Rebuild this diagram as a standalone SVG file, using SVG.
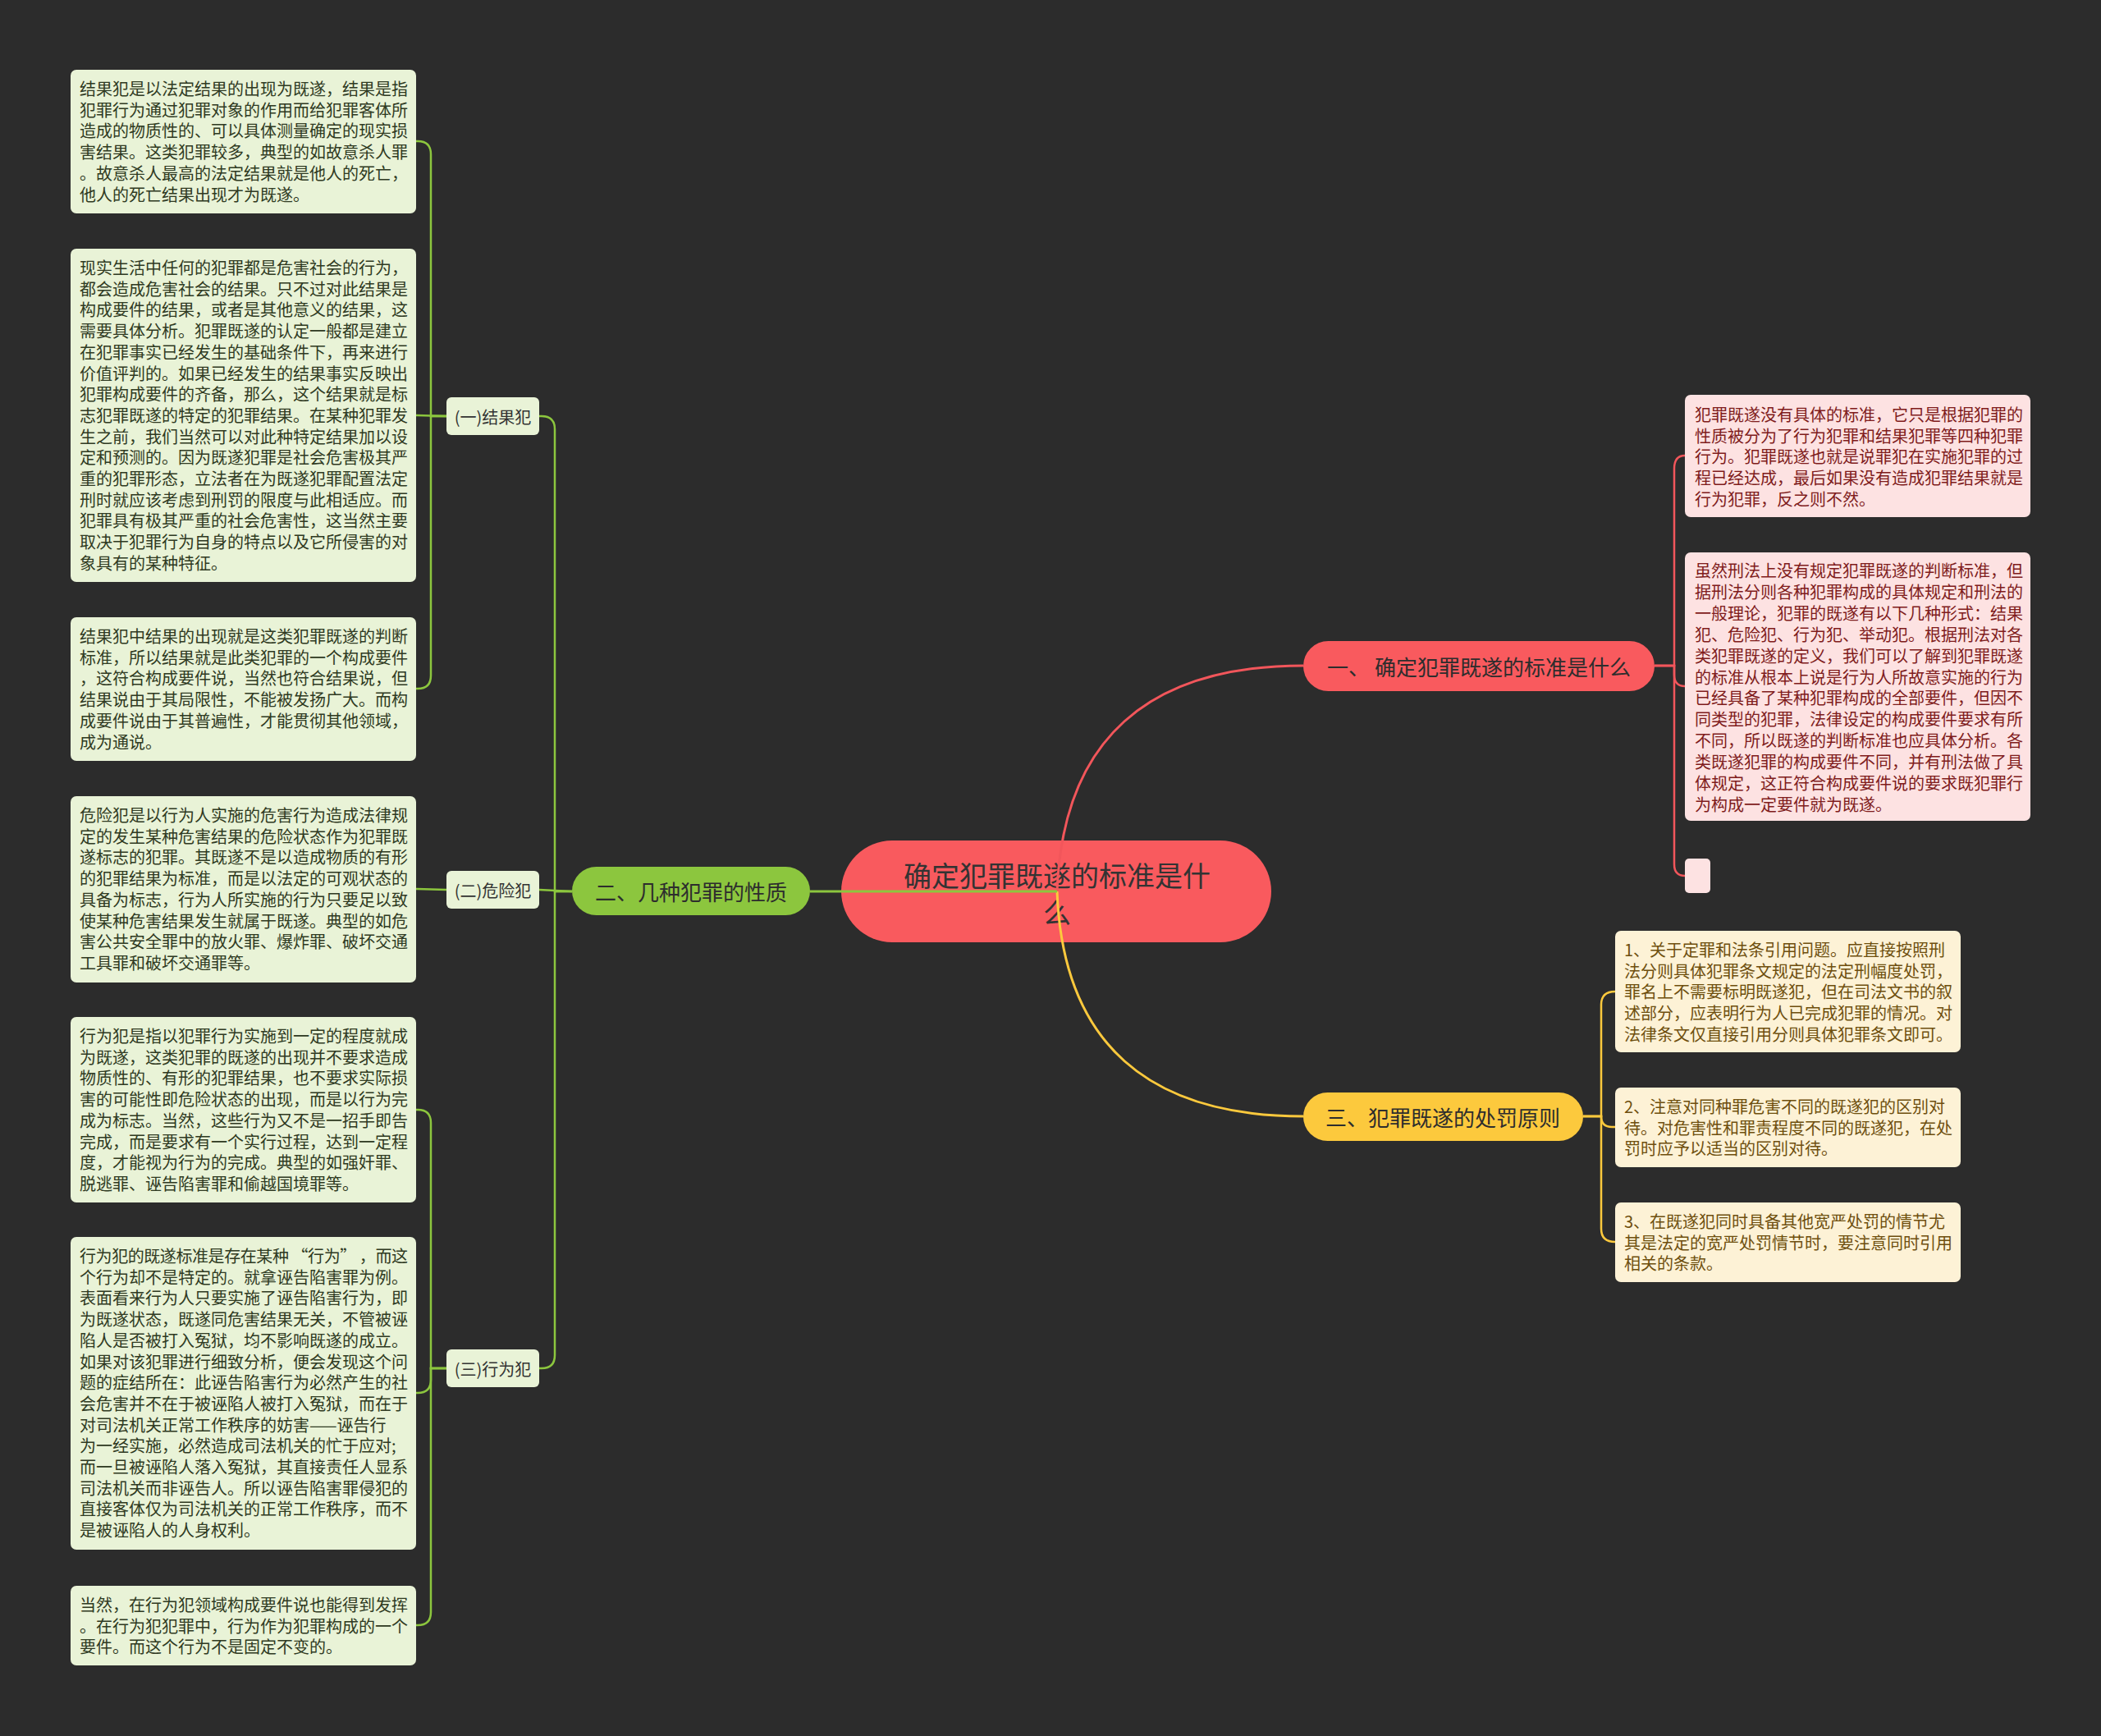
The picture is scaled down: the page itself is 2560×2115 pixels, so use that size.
<svg xmlns="http://www.w3.org/2000/svg" width="2560" height="2115" viewBox="0 0 2560 2115">
<style>
text{font-family:"Noto Sans CJK SC","Noto Sans",sans-serif;}
.bg{fill:#2c2c2c}
.gbox{fill:#e9f3d7}
.pbox{fill:#fde2e2}
.ybox{fill:#fdf2d6}
.gt{font-size:20px;fill:#2f3a22}
.pt{font-size:20px;fill:#7f1c1c}
.yt{font-size:20px;fill:#6e4f0e}
.bt{font-size:26px;fill:#2d2d2d;text-anchor:middle;dominant-baseline:central}
.st{font-size:20px;fill:#333;text-anchor:middle;dominant-baseline:central}
.ct{font-size:34px;fill:#333;text-anchor:middle;dominant-baseline:central}
.lr{fill:none;stroke:#f2565b;stroke-width:3}
.lg{fill:none;stroke:#8cc63e;stroke-width:3}
.ly{fill:none;stroke:#fcc93d;stroke-width:3}
.br{stroke-width:2.5}
</style>
<rect class="bg" x="0" y="0" width="2560" height="2115"/>

<g id="center">
<rect x="1025" y="1024" width="524" height="124" rx="62" fill="#f95a5e"/>
<text class="ct" x="1288" y="1065">确定犯罪既遂的标准是什</text>
<text class="ct" x="1288" y="1110">么</text>
</g>

<g id="branch1">
<rect x="1588" y="781" width="428" height="61" rx="30.5" fill="#f95a5e"/>
<text class="bt" x="1802" y="811.5">一、 确定犯罪既遂的标准是什么</text>
</g>
<g id="branch2">
<rect x="697" y="1056" width="290" height="59" rx="29.5" fill="#8cc63e"/>
<text class="bt" x="842" y="1085.5">二、几种犯罪的性质</text>
</g>
<g id="branch3">
<rect x="1588" y="1331" width="341" height="59" rx="29.5" fill="#fcc93d"/>
<text class="bt" x="1758" y="1360.5">三、犯罪既遂的处罚原则</text>
</g>

<g id="sub1">
<rect class="gbox" x="544" y="484" width="113" height="46" rx="6"/>
<text class="st" x="600.5" y="507">(一)结果犯</text>
</g>
<g id="sub2">
<rect class="gbox" x="544" y="1061" width="113" height="46" rx="6"/>
<text class="st" x="600.5" y="1084">(二)危险犯</text>
</g>
<g id="sub3">
<rect class="gbox" x="544" y="1644" width="113" height="46" rx="6"/>
<text class="st" x="600.5" y="1667">(三)行为犯</text>
</g>

<g id="g1">
<rect class="gbox" x="86" y="85" width="421" height="175" rx="7"/>
<text class="gt" y="116"><tspan x="97">结果犯是以法定结果的出现为既遂，结果是指</tspan><tspan x="97" dy="25.7">犯罪行为通过犯罪对象的作用而给犯罪客体所</tspan><tspan x="97" dy="25.7">造成的物质性的、可以具体测量确定的现实损</tspan><tspan x="97" dy="25.7">害结果。这类犯罪较多，典型的如故意杀人罪</tspan><tspan x="97" dy="25.7">。故意杀人最高的法定结果就是他人的死亡，</tspan><tspan x="97" dy="25.7">他人的死亡结果出现才为既遂。</tspan></text>
</g>
<g id="g2">
<rect class="gbox" x="86" y="303" width="421" height="406" rx="7"/>
<text class="gt" y="334"><tspan x="97">现实生活中任何的犯罪都是危害社会的行为，</tspan><tspan x="97" dy="25.7">都会造成危害社会的结果。只不过对此结果是</tspan><tspan x="97" dy="25.7">构成要件的结果，或者是其他意义的结果，这</tspan><tspan x="97" dy="25.7">需要具体分析。犯罪既遂的认定一般都是建立</tspan><tspan x="97" dy="25.7">在犯罪事实已经发生的基础条件下，再来进行</tspan><tspan x="97" dy="25.7">价值评判的。如果已经发生的结果事实反映出</tspan><tspan x="97" dy="25.7">犯罪构成要件的齐备，那么，这个结果就是标</tspan><tspan x="97" dy="25.7">志犯罪既遂的特定的犯罪结果。在某种犯罪发</tspan><tspan x="97" dy="25.7">生之前，我们当然可以对此种特定结果加以设</tspan><tspan x="97" dy="25.7">定和预测的。因为既遂犯罪是社会危害极其严</tspan><tspan x="97" dy="25.7">重的犯罪形态，立法者在为既遂犯罪配置法定</tspan><tspan x="97" dy="25.7">刑时就应该考虑到刑罚的限度与此相适应。而</tspan><tspan x="97" dy="25.7">犯罪具有极其严重的社会危害性，这当然主要</tspan><tspan x="97" dy="25.7">取决于犯罪行为自身的特点以及它所侵害的对</tspan><tspan x="97" dy="25.7">象具有的某种特征。</tspan></text>
</g>
<g id="g3">
<rect class="gbox" x="86" y="752" width="421" height="175" rx="7"/>
<text class="gt" y="783"><tspan x="97">结果犯中结果的出现就是这类犯罪既遂的判断</tspan><tspan x="97" dy="25.7">标准，所以结果就是此类犯罪的一个构成要件</tspan><tspan x="97" dy="25.7">，这符合构成要件说，当然也符合结果说，但</tspan><tspan x="97" dy="25.7">结果说由于其局限性，不能被发扬广大。而构</tspan><tspan x="97" dy="25.7">成要件说由于其普遍性，才能贯彻其他领域，</tspan><tspan x="97" dy="25.7">成为通说。</tspan></text>
</g>
<g id="g4">
<rect class="gbox" x="86" y="970" width="421" height="227" rx="7"/>
<text class="gt" y="1001"><tspan x="97">危险犯是以行为人实施的危害行为造成法律规</tspan><tspan x="97" dy="25.7">定的发生某种危害结果的危险状态作为犯罪既</tspan><tspan x="97" dy="25.7">遂标志的犯罪。其既遂不是以造成物质的有形</tspan><tspan x="97" dy="25.7">的犯罪结果为标准，而是以法定的可观状态的</tspan><tspan x="97" dy="25.7">具备为标志，行为人所实施的行为只要足以致</tspan><tspan x="97" dy="25.7">使某种危害结果发生就属于既遂。典型的如危</tspan><tspan x="97" dy="25.7">害公共安全罪中的放火罪、爆炸罪、破坏交通</tspan><tspan x="97" dy="25.7">工具罪和破坏交通罪等。</tspan></text>
</g>
<g id="g5">
<rect class="gbox" x="86" y="1239" width="421" height="226" rx="7"/>
<text class="gt" y="1270"><tspan x="97">行为犯是指以犯罪行为实施到一定的程度就成</tspan><tspan x="97" dy="25.7">为既遂，这类犯罪的既遂的出现并不要求造成</tspan><tspan x="97" dy="25.7">物质性的、有形的犯罪结果，也不要求实际损</tspan><tspan x="97" dy="25.7">害的可能性即危险状态的出现，而是以行为完</tspan><tspan x="97" dy="25.7">成为标志。当然，这些行为又不是一招手即告</tspan><tspan x="97" dy="25.7">完成，而是要求有一个实行过程，达到一定程</tspan><tspan x="97" dy="25.7">度，才能视为行为的完成。典型的如强奸罪、</tspan><tspan x="97" dy="25.7">脱逃罪、诬告陷害罪和偷越国境罪等。</tspan></text>
</g>
<g id="g6">
<rect class="gbox" x="86" y="1507" width="421" height="381" rx="7"/>
<text class="gt" y="1538"><tspan x="97" textLength="400" lengthAdjust="spacing">行为犯的既遂标准是存在某种 “行为” ，而这</tspan><tspan x="97" dy="25.7">个行为却不是特定的。就拿诬告陷害罪为例。</tspan><tspan x="97" dy="25.7">表面看来行为人只要实施了诬告陷害行为，即</tspan><tspan x="97" dy="25.7">为既遂状态，既遂同危害结果无关，不管被诬</tspan><tspan x="97" dy="25.7">陷人是否被打入冤狱，均不影响既遂的成立。</tspan><tspan x="97" dy="25.7">如果对该犯罪进行细致分析，便会发现这个问</tspan><tspan x="97" dy="25.7">题的症结所在：此诬告陷害行为必然产生的社</tspan><tspan x="97" dy="25.7">会危害并不在于被诬陷人被打入冤狱，而在于</tspan><tspan x="97" dy="25.7">对司法机关正常工作秩序的妨害——诬告行</tspan><tspan x="97" dy="25.7">为一经实施，必然造成司法机关的忙于应对;</tspan><tspan x="97" dy="25.7">而一旦被诬陷人落入冤狱，其直接责任人显系</tspan><tspan x="97" dy="25.7">司法机关而非诬告人。所以诬告陷害罪侵犯的</tspan><tspan x="97" dy="25.7">直接客体仅为司法机关的正常工作秩序，而不</tspan><tspan x="97" dy="25.7">是被诬陷人的人身权利。</tspan></text>
</g>
<g id="g7">
<rect class="gbox" x="86" y="1932" width="421" height="97" rx="7"/>
<text class="gt" y="1963"><tspan x="97">当然，在行为犯领域构成要件说也能得到发挥</tspan><tspan x="97" dy="25.7">。在行为犯犯罪中，行为作为犯罪构成的一个</tspan><tspan x="97" dy="25.7">要件。而这个行为不是固定不变的。</tspan></text>
</g>

<g id="p1">
<rect class="pbox" x="2053" y="481" width="421" height="149" rx="7"/>
<text class="pt" y="513"><tspan x="2065">犯罪既遂没有具体的标准，它只是根据犯罪的</tspan><tspan x="2065" dy="25.7">性质被分为了行为犯罪和结果犯罪等四种犯罪</tspan><tspan x="2065" dy="25.7">行为。犯罪既遂也就是说罪犯在实施犯罪的过</tspan><tspan x="2065" dy="25.7">程已经达成，最后如果没有造成犯罪结果就是</tspan><tspan x="2065" dy="25.7">行为犯罪，反之则不然。</tspan></text>
</g>
<g id="p2">
<rect class="pbox" x="2053" y="673" width="421" height="327" rx="7"/>
<text class="pt" y="703"><tspan x="2065">虽然刑法上没有规定犯罪既遂的判断标准，但</tspan><tspan x="2065" dy="25.9">据刑法分则各种犯罪构成的具体规定和刑法的</tspan><tspan x="2065" dy="25.9">一般理论，犯罪的既遂有以下几种形式：结果</tspan><tspan x="2065" dy="25.9">犯、危险犯、行为犯、举动犯。根据刑法对各</tspan><tspan x="2065" dy="25.9">类犯罪既遂的定义，我们可以了解到犯罪既遂</tspan><tspan x="2065" dy="25.9">的标准从根本上说是行为人所故意实施的行为</tspan><tspan x="2065" dy="25.9">已经具备了某种犯罪构成的全部要件，但因不</tspan><tspan x="2065" dy="25.9">同类型的犯罪，法律设定的构成要件要求有所</tspan><tspan x="2065" dy="25.9">不同，所以既遂的判断标准也应具体分析。各</tspan><tspan x="2065" dy="25.9">类既遂犯罪的构成要件不同，并有刑法做了具</tspan><tspan x="2065" dy="25.9">体规定，这正符合构成要件说的要求既犯罪行</tspan><tspan x="2065" dy="25.9">为构成一定要件就为既遂。</tspan></text>
</g>
<g id="p3">
<rect class="pbox" x="2053" y="1046" width="31" height="42" rx="5"/>
</g>

<g id="y1">
<rect class="ybox" x="1968" y="1134" width="421" height="148" rx="7"/>
<text class="yt" y="1165"><tspan x="1979">1、关于定罪和法条引用问题。应直接按照刑</tspan><tspan x="1979" dy="25.7">法分则具体犯罪条文规定的法定刑幅度处罚，</tspan><tspan x="1979" dy="25.7">罪名上不需要标明既遂犯，但在司法文书的叙</tspan><tspan x="1979" dy="25.7">述部分，应表明行为人已完成犯罪的情况。对</tspan><tspan x="1979" dy="25.7">法律条文仅直接引用分则具体犯罪条文即可。</tspan></text>
</g>
<g id="y2">
<rect class="ybox" x="1968" y="1325" width="421" height="97" rx="7"/>
<text class="yt" y="1356"><tspan x="1979">2、注意对同种罪危害不同的既遂犯的区别对</tspan><tspan x="1979" dy="25.7">待。对危害性和罪责程度不同的既遂犯，在处</tspan><tspan x="1979" dy="25.7">罚时应予以适当的区别对待。</tspan></text>
</g>
<g id="y3">
<rect class="ybox" x="1968" y="1465" width="421" height="97" rx="7"/>
<text class="yt" y="1496"><tspan x="1979">3、在既遂犯同时具备其他宽严处罚的情节尤</tspan><tspan x="1979" dy="25.7">其是法定的宽严处罚情节时，要注意同时引用</tspan><tspan x="1979" dy="25.7">相关的条款。</tspan></text>
</g>

<g id="connectors">
<path class="lr" d="M1288 1086 C1295 900 1400 811 1588 811"/>
<path class="ly" d="M1288 1086 C1295 1272 1400 1360 1588 1360"/>
<path class="lg" d="M1288 1086 L987 1086"/>

<path class="lg br" d="M697 1086 L676 1086 L676 523 Q676 507 660 507 L657 507"/>
<path class="lg br" d="M697 1086 L657 1084"/>
<path class="lg br" d="M697 1086 L676 1086 L676 1651 Q676 1667 660 1667 L657 1667"/>

<path class="lg br" d="M544 507 L525 507 L525 188 Q525 172 509 172 L507 172"/>
<path class="lg br" d="M544 507 L507 506"/>
<path class="lg br" d="M544 507 L525 507 L525 823 Q525 839 509 839 L507 839"/>

<path class="lg br" d="M544 1084 L507 1083"/>

<path class="lg br" d="M544 1667 L525 1667 L525 1368 Q525 1352 509 1352 L507 1352"/>
<path class="lg br" d="M544 1667 L525 1667 L525 1681 Q525 1697 509 1697 L507 1697"/>
<path class="lg br" d="M544 1667 L525 1667 L525 1964 Q525 1980 509 1980 L507 1980"/>

<path class="lr br" d="M2016 811 L2040 811 L2040 571 Q2040 555 2053 555"/>
<path class="lr br" d="M2016 811 L2040 811 L2040 822 Q2040 836 2053 836"/>
<path class="lr br" d="M2016 811 L2040 811 L2040 1053 Q2040 1067 2053 1067"/>

<path class="ly br" d="M1929 1360 L1951 1360 L1951 1224 Q1951 1208 1968 1208"/>
<path class="ly br" d="M1929 1360 L1951 1360 Q1951 1373 1964 1373 L1968 1373"/>
<path class="ly br" d="M1929 1360 L1951 1360 L1951 1497 Q1951 1513 1968 1513"/>
</g>
</svg>
